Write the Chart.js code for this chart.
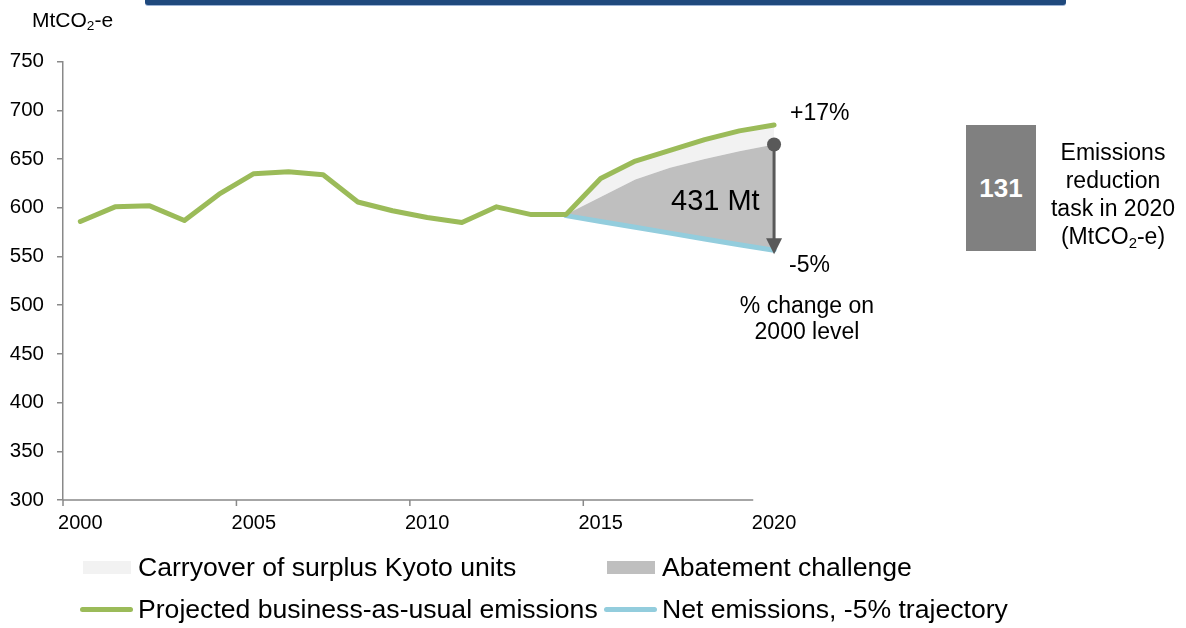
<!DOCTYPE html>
<html>
<head>
<meta charset="utf-8">
<script src="https://cdn.jsdelivr.net/npm/chart.js@4"></script>
<style>
  body { margin: 0; background: #fff; font-family: "Liberation Sans", Arial, sans-serif; color: #000; }
  #wrap { position: relative; width: 1186px; height: 628px; overflow: hidden; }
  #chart { position: absolute; left: 0; top: 0; }
  .txt { position: absolute; white-space: nowrap; }
  .bar { position: absolute; left: 145px; top: 0; width: 921px; height: 5px; background: #1f497d;
         border-radius: 0 0 3px 3px; box-shadow: 0 1px 0 #9db4d6; }
  .box { position: absolute; left: 966px; top: 125px; width: 70px; height: 126px; background: #808080;
         color: #fff; font-weight: bold; font-size: 26px; display: flex; align-items: center; justify-content: center; }
  .side { position: absolute; left: 1033px; top: 138px; width: 160px; text-align: center; font-size: 23px; line-height: 28px; }
  .sw { position: absolute; }
  .leg { position: absolute; font-size: 26.6px; line-height: 30px; white-space: nowrap; }
  sub { font-size: 0.65em; line-height: 0; vertical-align: -0.25em; }
</style>
</head>
<body>
<div id="wrap">
  <canvas id="chart" width="1186" height="628"></canvas>
  <div class="bar"></div>
  <div class="txt" style="left:32px; top:8px; font-size:21px; line-height:24px;">MtCO<sub>2</sub>-e</div>

  <div class="txt" style="left:671px; top:184px; font-size:29px; line-height:32px;">431 Mt</div>
  <div class="txt" style="left:790px; top:99px; font-size:23px; line-height:26px;">+17%</div>
  <div class="txt" style="left:789px; top:251px; font-size:23px; line-height:26px;">-5%</div>
  <div class="txt" style="left:707px; top:292px; width:200px; text-align:center; font-size:23px; line-height:26px;">% change on<br>2000 level</div>

  <div class="box">131</div>
  <div class="side">Emissions<br>reduction<br>task in 2020<br>(MtCO<sub>2</sub>-e)</div>

  <div class="sw" style="left:83px; top:561px; width:48px; height:13px; background:#f2f2f2;"></div>
  <div class="leg" style="left:138px; top:552px;">Carryover of surplus Kyoto units</div>
  <div class="sw" style="left:607px; top:561px; width:48px; height:13px; background:#bfbfbf;"></div>
  <div class="leg" style="left:662px; top:552px;">Abatement challenge</div>
  <div class="sw" style="left:80px; top:607px; width:53px; height:5px; background:#9bbb59; border-radius:3px;"></div>
  <div class="leg" style="left:138px; top:594px;">Projected business-as-usual emissions</div>
  <div class="sw" style="left:604px; top:607px; width:53px; height:5px; background:#93cddd; border-radius:3px;"></div>
  <div class="leg" style="left:662px; top:594px;">Net emissions, -5% trajectory</div>
</div>

<script>
// ---- data ----
const years = [2000, 2001, 2002, 2003, 2004, 2005, 2006, 2007, 2008, 2009, 2010,
               2011, 2012, 2013, 2014, 2015, 2016, 2017, 2018, 2019, 2020];
const bauEmissions = [586, 601, 602, 587, 614, 635, 637, 634, 606, 597, 590,
                      585, 601, 593, 593, 630, 648, 659, 670, 679, 685];
const projYears = [2014, 2015, 2016, 2017, 2018, 2019, 2020];
const abatementTop = [593, 611, 629, 641, 650, 658, 665];
const netEmissions = [592, 586, 580, 574, 568, 562, 556.5];
const xTickLabels = [2000, 2005, 2010, 2015, 2020];
const yTicks = [300, 350, 400, 450, 500, 550, 600, 650, 700, 750];

const GREEN = '#9bbb59';
const BLUE = '#93cddd';
const AXIS = '#898989';

function pts(xs, ys) {
  return xs.map(function(x, i) { return { x: x, y: ys[i] }; });
}
const carryoverTop = bauEmissions.slice(years.indexOf(2014));

// axis line + x tick marks (ticks sit between categories) + arrow
const overlay = {
  id: 'overlay',
  afterDraw(chart) {
    const ctx = chart.ctx;
    const xs = chart.scales.x, ys = chart.scales.y;
    const a = chart.chartArea;
    ctx.save();
    ctx.strokeStyle = AXIS;
    ctx.lineWidth = 1.5;
    ctx.beginPath();
    ctx.moveTo(a.left, a.bottom);
    ctx.lineTo(xs.getPixelForValue(2019.4), a.bottom);
    [1999.5, 2004.5, 2009.5, 2014.5].forEach(function(v) {
      const px = xs.getPixelForValue(v);
      ctx.moveTo(px, a.bottom);
      ctx.lineTo(px, a.bottom + 6);
    });
    ctx.stroke();

    // arrow: abatement top -> net target in 2020
    const last = projYears.length - 1;
    const ax = xs.getPixelForValue(projYears[last]);
    const y1 = ys.getPixelForValue(abatementTop[last]);
    const y2 = ys.getPixelForValue(netEmissions[last]) + 4;
    ctx.strokeStyle = '#595959';
    ctx.fillStyle = '#595959';
    ctx.lineWidth = 3;
    ctx.beginPath();
    ctx.moveTo(ax, y1);
    ctx.lineTo(ax, y2 - 14);
    ctx.stroke();
    ctx.beginPath();
    ctx.arc(ax, y1, 7, 0, Math.PI * 2);
    ctx.fill();
    ctx.beginPath();
    ctx.moveTo(ax - 8, y2 - 16);
    ctx.lineTo(ax + 8, y2 - 16);
    ctx.lineTo(ax, y2);
    ctx.closePath();
    ctx.fill();
    ctx.restore();
  }
};

new Chart(document.getElementById('chart'), {
  type: 'line',
  data: {
    datasets: [
      { label: 'Projected business-as-usual emissions', data: pts(years, bauEmissions),
        borderColor: GREEN, borderWidth: 5, pointRadius: 0, fill: false, tension: 0 },
      { label: 'Net emissions, -5% trajectory', data: pts(projYears, netEmissions),
        borderColor: BLUE, borderWidth: 5, pointRadius: 0, fill: false },
      { label: 'Abatement challenge', data: pts(projYears, abatementTop),
        borderWidth: 0, borderColor: 'rgba(0,0,0,0)', pointRadius: 0, fill: 1, backgroundColor: '#bfbfbf' },
      { label: 'Carryover of surplus Kyoto units', data: pts(projYears, carryoverTop),
        borderWidth: 0, borderColor: 'rgba(0,0,0,0)', pointRadius: 0, fill: 2, backgroundColor: '#f2f2f2' }
    ]
  },
  options: {
    responsive: false,
    animation: false,
    layout: { padding: { left: 0, right: 394.6, top: 61.7, bottom: 88 } },
    plugins: { legend: { display: false }, tooltip: { enabled: false } },
    elements: { line: { borderCapStyle: 'round', borderJoinStyle: 'round' } },
    scales: {
      x: {
        type: 'linear', min: 1999.5, max: 2020.5,
        afterBuildTicks(s) { s.ticks = xTickLabels.map(function(v) { return { value: v }; }); },
        afterFit(s) { s.height = 40; },
        grid: { display: false },
        border: { display: false },
        ticks: { color: '#000', padding: 3, maxRotation: 0, autoSkip: false,
                 font: { family: '"Liberation Sans", Arial, sans-serif', size: 20 },
                 callback: function(v) { return String(v); } }
      },
      y: {
        min: 300, max: 750,
        afterBuildTicks(s) { s.ticks = yTicks.map(function(v) { return { value: v }; }); },
        afterFit(s) { s.width = 63; },
        grid: { drawOnChartArea: false, drawTicks: true, tickLength: 6, color: AXIS, lineWidth: 1.5 },
        border: { display: true, color: AXIS, width: 1.5 },
        ticks: { color: '#000', padding: 13,
                 font: { family: '"Liberation Sans", Arial, sans-serif', size: 20.5 } }
      }
    }
  },
  plugins: [overlay]
});
</script>
</body>
</html>
